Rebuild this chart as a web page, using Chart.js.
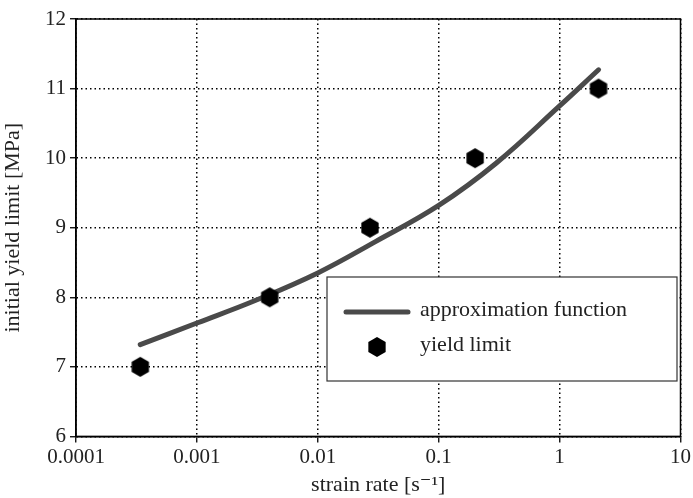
<!DOCTYPE html>
<html>
<head>
<meta charset="utf-8">
<script src="https://cdn.jsdelivr.net/npm/chart.js@4.4.1/dist/chart.umd.min.js"></script>
<style>
  html, body { margin: 0; padding: 0; background: #fff; }
  #wrap { width: 693px; height: 498px; }
</style>
</head>
<body>
<div id="wrap"><canvas id="chart"></canvas></div>
<script>
// measured yield limits
const rateData = [0.00034, 0.004, 0.027, 0.2, 2.1];
const yieldData = [7, 8, 9, 10, 11];

// approximation function
const fitRate = [0.00034, 0.001, 0.003, 0.01, 0.03, 0.1, 0.3, 1, 2.1];
const fitYield = [7.32, 7.63, 7.95, 8.35, 8.8, 9.32, 9.93, 10.75, 11.27];

const xTicks = [0.0001, 0.001, 0.01, 0.1, 1, 10];
const xTickLabels = ['0.0001', '0.001', '0.01', '0.1', '1', '10'];

const seriesLabels = ['approximation function', 'yield limit'];

const serif = '"Liberation Serif", "DejaVu Serif", serif';
const lineColor = '#4a4a4a';

// hexagon marker (vertex up)
function makeHexagon(r) {
  const c = document.createElement('canvas');
  const s = Math.ceil(r * 2 + 2);
  c.width = s; c.height = s;
  const g = c.getContext('2d');
  g.beginPath();
  for (let i = 0; i < 6; i++) {
    const a = Math.PI / 2 + i * Math.PI / 3;
    const px = s / 2 + r * Math.cos(a);
    const py = s / 2 - r * Math.sin(a);
    if (i === 0) g.moveTo(px, py); else g.lineTo(px, py);
  }
  g.closePath();
  g.fillStyle = '#000';
  g.fill();
  return c;
}
const hex = makeHexagon(10);

// solid frame + legend box inside the plot
const framePlugin = {
  id: 'frame',
  afterDatasetsDraw(chart) {
    const { ctx, chartArea: a } = chart;
    ctx.save();
    // legend box
    const bx = 327, by = 277, bw = 350, bh = 104;
    ctx.fillStyle = '#fff';
    ctx.fillRect(bx, by, bw, bh);
    ctx.lineWidth = 1.2;
    ctx.strokeStyle = '#333';
    ctx.strokeRect(bx, by, bw, bh);

    ctx.lineCap = 'round';
    ctx.lineWidth = 5;
    ctx.strokeStyle = lineColor;
    ctx.beginPath();
    ctx.moveTo(346, 312);
    ctx.lineTo(408, 312);
    ctx.stroke();
    ctx.drawImage(hex, 377 - hex.width / 2, 347 - hex.height / 2);

    ctx.fillStyle = '#222';
    ctx.font = '22px ' + serif;
    ctx.textBaseline = 'middle';
    ctx.textAlign = 'left';
    ctx.fillText(seriesLabels[0], 420, 310);
    ctx.fillText(seriesLabels[1], 420, 345);

    // frame
    ctx.lineCap = 'butt';
    ctx.lineWidth = 1.5;
    ctx.strokeStyle = '#000';
    ctx.strokeRect(a.left, a.top, a.right - a.left, a.bottom - a.top);
    ctx.restore();
  }
};

new Chart(document.getElementById('chart'), {
  type: 'scatter',
  data: {
    datasets: [
      {
        label: seriesLabels[0],
        data: fitRate.map((x, i) => ({ x: x, y: fitYield[i] })),
        showLine: true,
        borderColor: lineColor,
        borderWidth: 5,
        borderCapStyle: 'round',
        tension: 0.4,
        pointRadius: 0,
        order: 2
      },
      {
        label: seriesLabels[1],
        data: rateData.map((x, i) => ({ x: x, y: yieldData[i] })),
        pointStyle: hex,
        pointRadius: 10,
        order: 1
      }
    ]
  },
  plugins: [framePlugin],
  options: {
    responsive: true,
    maintainAspectRatio: false,
    animation: false,
    devicePixelRatio: 1,
    layout: { padding: { left: 0, right: 12, top: 19, bottom: 0 } },
    plugins: {
      legend: { display: false },
      tooltip: { enabled: false }
    },
    scales: {
      x: {
        type: 'logarithmic',
        min: 0.0001,
        max: 10,
        afterBuildTicks(scale) {
          scale.ticks = xTicks.map(v => ({ value: v }));
        },
        ticks: {
          autoSkip: false,
          maxRotation: 0,
          padding: 2,
          color: '#222',
          font: { family: serif, size: 21 },
          callback: (v, i) => xTickLabels[i]
        },
        grid: {
          color: '#000',
          lineWidth: 1.5,
          tickLength: 6,
          tickColor: '#000',
          tickWidth: 1.3
        },
        border: { display: true, color: '#000', width: 1.5, dash: [1.5, 3] },
        title: {
          display: true,
          text: 'strain rate [s⁻¹]',
          color: '#222',
          font: { family: serif, size: 22 },
          padding: { top: 0, bottom: 0 }
        }
      },
      y: {
        min: 6,
        max: 12,
        afterFit(scale) { scale.width = 76; },
        ticks: {
          stepSize: 1,
          padding: 4,
          color: '#222',
          font: { family: serif, size: 21 }
        },
        grid: {
          color: '#000',
          lineWidth: 1.5,
          tickLength: 6,
          tickColor: '#000',
          tickWidth: 1.3
        },
        border: { display: true, color: '#000', width: 1.5, dash: [1.5, 3] },
        title: {
          display: true,
          text: 'initial yield limit [MPa]',
          color: '#222',
          font: { family: serif, size: 22 },
          padding: { top: 0, bottom: 2 }
        }
      }
    }
  }
});
</script>
</body>
</html>
